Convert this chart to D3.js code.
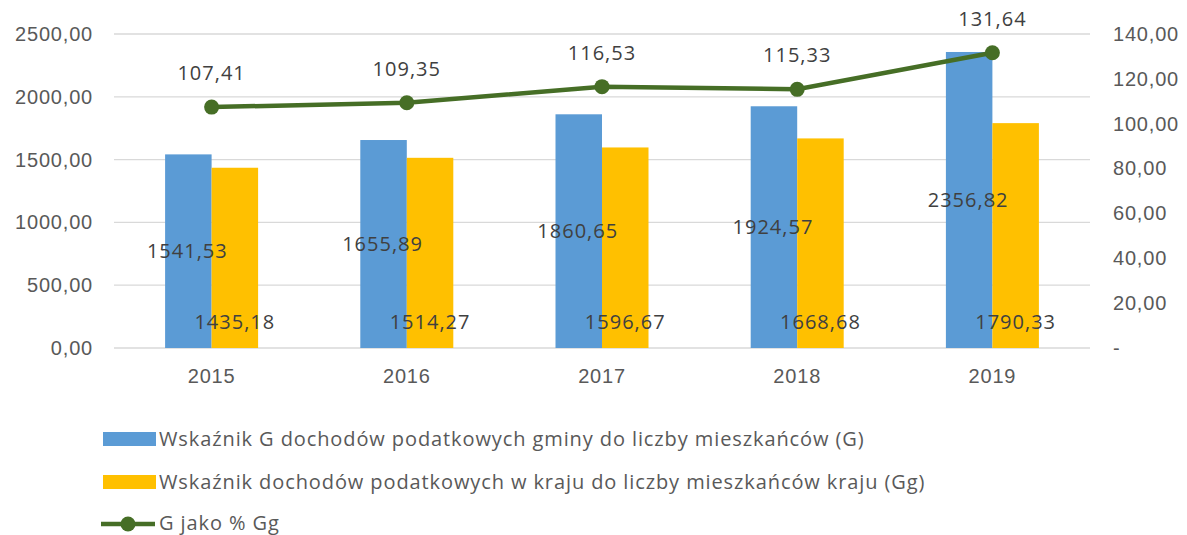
<!DOCTYPE html>
<html>
<head>
<meta charset="utf-8">
<script src="https://cdn.jsdelivr.net/npm/d3@7"></script>
<style>
  body { margin: 0; background: #fff; }
  svg { display: block; font-family: "Open Sans", "Liberation Sans", sans-serif; }
</style>
</head>
<body>
<div id="chart"></div>
<script>
const years = ["2015", "2016", "2017", "2018", "2019"];
const gValues = [1541.53, 1655.89, 1860.65, 1924.57, 2356.82];
const ggValues = [1435.18, 1514.27, 1596.67, 1668.68, 1790.33];
const pctValues = [107.41, 109.35, 116.53, 115.33, 131.64];
const leftTicks = [0, 500, 1000, 1500, 2000, 2500];
const rightTicks = [0, 20, 40, 60, 80, 100, 120, 140];
const seriesNames = [
  "Wskaźnik G dochodów podatkowych gminy do liczby mieszkańców (G)",
  "Wskaźnik dochodów podatkowych w kraju do liczby mieszkańców kraju (Gg)",
  "G jako % Gg",
];

const width = 1187;
const height = 535;
const plot = { left: 114, right: 1090, top: 34, bottom: 348 };

const blue = "#5B9BD5";
const yellow = "#FFC000";
const green = "#466E26";
const tickColor = "#595959";
const labelColor = "#404040";

const fmt = (v) => v.toFixed(2).replace(".", ",");

const svg = d3
  .select("#chart")
  .append("svg")
  .attr("width", width)
  .attr("height", height)
  .attr("viewBox", `0 0 ${width} ${height}`);

const x = d3.scaleBand().domain(years).range([plot.left, plot.right]);
const yLeft = d3.scaleLinear().domain([0, 2500]).range([plot.bottom, plot.top]);
const yRight = d3.scaleLinear().domain([0, 140]).range([plot.bottom, plot.top]);

const barW = 46.5;

// gridlines
svg
  .append("g")
  .selectAll("line")
  .data(leftTicks)
  .join("line")
  .attr("x1", plot.left)
  .attr("x2", plot.right)
  .attr("y1", (d) => yLeft(d))
  .attr("y2", (d) => yLeft(d))
  .style("stroke", "#d9d9d9")
  .style("stroke-width", 1.3);

function styleTicks(g) {
  g.select(".domain").remove();
  g.selectAll("text")
    .style("font-size", "20px")
    .style("letter-spacing", "0.8px")
    .style("fill", tickColor);
}

// left axis
svg
  .append("g")
  .attr("transform", `translate(${plot.left}, 0)`)
  .call(d3.axisLeft(yLeft).tickValues(leftTicks).tickSize(0).tickPadding(21).tickFormat(fmt))
  .call(styleTicks);

// right axis
svg
  .append("g")
  .attr("transform", `translate(${plot.right}, 0)`)
  .call(
    d3
      .axisRight(yRight)
      .tickValues(rightTicks)
      .tickSize(0)
      .tickPadding(23)
      .tickFormat((d) => (d === 0 ? "-" : fmt(d)))
  )
  .call(styleTicks);

// category axis
svg
  .append("g")
  .attr("transform", `translate(0, ${plot.bottom})`)
  .call(d3.axisBottom(x).tickSize(0).tickPadding(21))
  .call(styleTicks);

const cx = (d) => x(d) + x.bandwidth() / 2;

// bars
svg
  .append("g")
  .selectAll("rect")
  .data(years)
  .join("rect")
  .attr("x", (d) => cx(d) - barW)
  .attr("y", (d, i) => yLeft(gValues[i]))
  .attr("width", barW)
  .attr("height", (d, i) => yLeft(0) - yLeft(gValues[i]))
  .style("fill", blue);

svg
  .append("g")
  .selectAll("rect")
  .data(years)
  .join("rect")
  .attr("x", (d) => cx(d))
  .attr("y", (d, i) => yLeft(ggValues[i]))
  .attr("width", barW)
  .attr("height", (d, i) => yLeft(0) - yLeft(ggValues[i]))
  .style("fill", yellow);

// line
const line = d3
  .line()
  .x((d, i) => cx(years[i]))
  .y((d) => yRight(d));

svg
  .append("path")
  .datum(pctValues)
  .attr("d", line)
  .style("fill", "none")
  .style("stroke", green)
  .style("stroke-width", 4.5);

svg
  .append("g")
  .selectAll("circle")
  .data(pctValues)
  .join("circle")
  .attr("cx", (d, i) => cx(years[i]))
  .attr("cy", (d) => yRight(d))
  .attr("r", 7.5)
  .style("fill", green);

// data labels
const labels = svg
  .append("g")
  .style("font-size", "20px")
  .style("letter-spacing", "1px")
  .style("fill", labelColor);

labels
  .selectAll(".lbl-g")
  .data(gValues)
  .join("text")
  .attr("x", (d, i) => cx(years[i]) - barW / 2 - 1)
  .attr("y", (d) => (yLeft(d) + yLeft(0)) / 2)
  .attr("dy", "0.35em")
  .attr("text-anchor", "middle")
  .text(fmt);

labels
  .selectAll(".lbl-gg")
  .data(ggValues)
  .join("text")
  .attr("x", (d, i) => cx(years[i]) + barW / 2)
  .attr("y", yLeft(0) - 26)
  .attr("dy", "0.35em")
  .attr("text-anchor", "middle")
  .text(fmt);

labels
  .selectAll(".lbl-pct")
  .data(pctValues)
  .join("text")
  .attr("x", (d, i) => cx(years[i]))
  .attr("y", (d) => yRight(d) - 34)
  .attr("dy", "0.35em")
  .attr("text-anchor", "middle")
  .text(fmt);

// legend
const legend = svg
  .append("g")
  .style("font-size", "20px")
  .style("letter-spacing", "0.9px")
  .style("fill", tickColor);
const rows = [439, 482, 524];

legend
  .append("rect")
  .attr("x", 103)
  .attr("y", rows[0] - 7)
  .attr("width", 53)
  .attr("height", 14)
  .style("fill", blue);
legend
  .append("rect")
  .attr("x", 103)
  .attr("y", rows[1] - 7)
  .attr("width", 53)
  .attr("height", 14)
  .style("fill", yellow);
legend
  .append("line")
  .attr("x1", 101)
  .attr("x2", 155)
  .attr("y1", rows[2])
  .attr("y2", rows[2])
  .style("stroke", green)
  .style("stroke-width", 4.5);
legend
  .append("circle")
  .attr("cx", 128)
  .attr("cy", rows[2])
  .attr("r", 7.5)
  .style("fill", green);

legend
  .selectAll("text")
  .data(seriesNames)
  .join("text")
  .attr("x", 159)
  .attr("y", (d, i) => rows[i])
  .attr("dy", (d, i) => (i === 2 ? "0.28em" : "0.33em"))
  .text((d) => d);
</script>
</body>
</html>
